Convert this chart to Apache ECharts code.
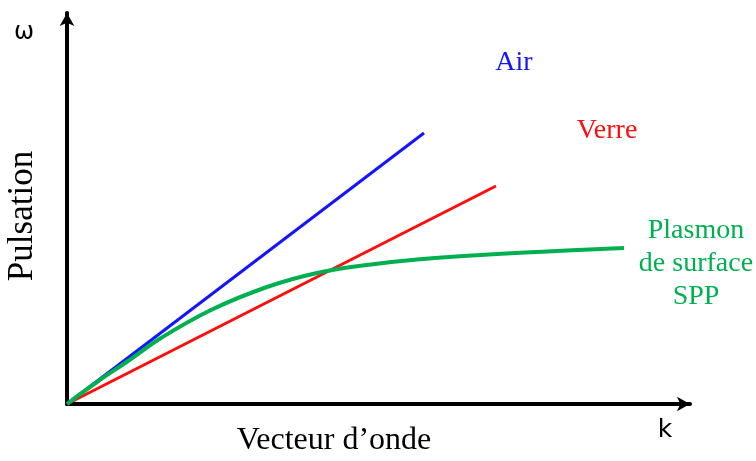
<!DOCTYPE html>
<html>
<head>
<meta charset="utf-8">
<script src="https://cdn.jsdelivr.net/npm/echarts@6/dist/echarts.min.js"></script>
<style>
  html, body { margin: 0; padding: 0; background: #fff; }
  #myChart { width: 756px; height: 461px; }
</style>
</head>
<body>
<div id="myChart"></div>
<script>
// courbes de dispersion (unités arbitraires)
const airK = [0, 357]
const airW = [0, 271]
const verreK = [0, 429]
const verreW = [0, 218]
const sppK = [0, 30, 61, 94, 144, 200, 250, 300, 350, 414, 480, 557]
const sppW = [0, 22, 43, 66, 94, 117, 131, 139, 144.5, 149, 152.5, 156]

const labels = ['Air', 'Verre', 'Plasmon\nde surface\nSPP']

function pairs(xs, ys) {
  return xs.map((x, i) => [x, ys[i]])
}

let myChart = echarts.init(document.getElementById('myChart'))

const serif = '"Liberation Serif", "DejaVu Serif", serif'
const sans = '"DejaVu Sans", "Noto Sans", sans-serif'

var option = {
  animation: false,
  grid: { left: 67, top: 13, width: 623, height: 391 },
  xAxis: {
    type: 'value',
    min: 0,
    max: 623,
    axisLine: {
      onZero: false,
      symbol: ['none', 'arrow'],
      symbolSize: [11, 13],
      lineStyle: { color: '#000', width: 4 }
    },
    axisTick: { show: false },
    axisLabel: { show: false },
    splitLine: { show: false }
  },
  yAxis: {
    type: 'value',
    min: 0,
    max: 391,
    axisLine: {
      onZero: false,
      symbol: ['none', 'arrow'],
      symbolSize: [11, 13],
      lineStyle: { color: '#000', width: 4 }
    },
    axisTick: { show: false },
    axisLabel: { show: false },
    splitLine: { show: false }
  },
  series: [
    {
      name: 'Air',
      type: 'line',
      data: pairs(airK, airW),
      showSymbol: false,
      lineStyle: { color: '#1414ff', width: 3 }
    },
    {
      name: 'Verre',
      type: 'line',
      data: pairs(verreK, verreW),
      showSymbol: false,
      lineStyle: { color: '#ff0d0d', width: 3 }
    },
    {
      name: 'SPP',
      type: 'line',
      data: pairs(sppK, sppW),
      smooth: 0.4,
      showSymbol: false,
      lineStyle: { color: '#00b050', width: 4 }
    }
  ],
  graphic: [
    { type: 'text', left: 14, top: 21, style: { text: 'ω', font: '24px ' + sans, fill: '#000' } },
    { type: 'text', x: 23, y: 216, rotation: Math.PI / 2,
      style: { text: 'Pulsation', font: '35px ' + serif, fill: '#000', align: 'center', verticalAlign: 'middle' } },
    { type: 'text', x: 334, y: 441,
      style: { text: 'Vecteur d’onde', font: '32px ' + serif, fill: '#000', align: 'center', verticalAlign: 'middle' } },
    { type: 'text', x: 665, y: 430,
      style: { text: 'k', font: '25px ' + sans, fill: '#000', align: 'center', verticalAlign: 'middle' } },
    { type: 'text', x: 514, y: 63,
      style: { text: labels[0], font: '28px ' + serif, fill: '#1414ff', align: 'center', verticalAlign: 'middle' } },
    { type: 'text', x: 607, y: 131,
      style: { text: labels[1], font: '28px ' + serif, fill: '#ff0d0d', align: 'center', verticalAlign: 'middle' } },
    { type: 'text', x: 696, y: 264,
      style: { text: labels[2], font: '28px ' + serif, lineHeight: 33, fill: '#00b050', align: 'center', verticalAlign: 'middle' } }
  ]
}

window.onresize = myChart.resize
myChart.setOption(option)
</script>
</body>
</html>
